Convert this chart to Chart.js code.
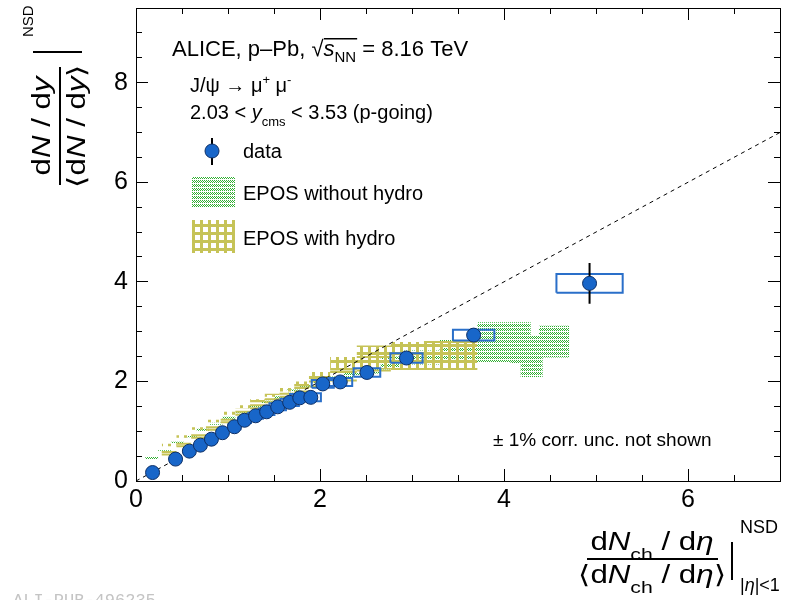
<!DOCTYPE html>
<html><head><meta charset="utf-8">
<script src="https://cdn.jsdelivr.net/npm/chart.js@4.4.0/dist/chart.umd.min.js"></script>
<style>html,body{margin:0;padding:0;background:#fff;}#wrap{width:793px;height:600px;}</style>
</head><body><div id="wrap"><canvas id="c" width="793" height="600" style="width:793px;height:600px"></canvas></div>
<script>
// ---------- data ----------
const dataX = [0.18, 0.43, 0.58, 0.70, 0.82, 0.94, 1.07, 1.18, 1.30, 1.42, 1.54, 1.67, 1.78, 1.90, 2.03, 2.22, 2.51, 2.94, 3.67, 4.93];
const dataY = [0.17, 0.44, 0.60, 0.72, 0.84, 0.97, 1.09, 1.22, 1.31, 1.39, 1.49, 1.58, 1.67, 1.68, 1.95, 1.99, 2.18, 2.47, 2.93, 3.97];
const statY = [0.01, 0.02, 0.02, 0.02, 0.03, 0.03, 0.03, 0.03, 0.04, 0.04, 0.04, 0.04, 0.05, 0.05, 0.05, 0.06, 0.06, 0.08, 0.12, 0.41];
const sysX  = [0.011, 0.026, 0.036, 0.043, 0.05, 0.057, 0.065, 0.07, 0.08, 0.085, 0.09, 0.10, 0.105, 0.11, 0.12, 0.13, 0.145, 0.175, 0.225, 0.36];
const sysY  = [0.008, 0.02, 0.028, 0.033, 0.04, 0.045, 0.05, 0.055, 0.06, 0.065, 0.07, 0.072, 0.075, 0.08, 0.077, 0.08, 0.085, 0.097, 0.107, 0.19];

const noHydroEdges = [0.10, 0.24, 0.38, 0.52, 0.66, 0.80, 0.94, 1.08, 1.22, 1.36, 1.50, 1.64, 1.78, 1.92, 2.08, 2.26, 2.46, 2.66, 2.86, 3.30, 3.71, 4.07, 4.18, 4.29, 4.38, 4.42, 4.60, 4.71];
const noHydroLow   = [0.31, 0.44, 0.58, 0.75, 0.88, 1.01, 1.13, 1.25, 1.36, 1.46, 1.56, 1.65, 1.78, 1.87, 1.95, 2.03, 2.09, 2.16, 2.24, 2.34, 2.39, 2.39, 2.35, 2.09, 2.09, 2.09, 2.48];
const noHydroHigh  = [0.35, 0.48, 0.62, 0.79, 0.92, 1.05, 1.17, 1.29, 1.40, 1.51, 1.61, 1.70, 1.84, 1.93, 2.02, 2.10, 2.17, 2.26, 2.50, 2.62, 2.83, 3.19, 3.19, 3.19, 2.92, 3.12, 3.12];

const hydroEdges = [0.28, 0.44, 0.60, 0.76, 0.92, 1.08, 1.24, 1.40, 1.56, 1.72, 1.88, 2.11, 2.40, 2.77, 3.13, 3.71];
const hydroLow   = [0.53, 0.70, 0.87, 1.03, 1.18, 1.33, 1.46, 1.58, 1.69, 1.80, 1.90, 2.02, 2.22, 2.25, 2.25];
const hydroHigh  = [0.58, 0.75, 0.92, 1.08, 1.23, 1.39, 1.52, 1.64, 1.75, 1.87, 2.00, 2.19, 2.49, 2.72, 2.79];

const diagX = [0, 7];
const diagY = [0, 7];

const xTickValues = [0, 2, 4, 6];
const xTickLabels = ['0', '2', '4', '6'];
const yTickValues = [0, 2, 4, 6, 8];
const yTickLabels = ['0', '2', '4', '6', '8'];

// ---------- helpers ----------
const FAM = '"Liberation Sans", Arial, Helvetica, sans-serif';
const canvas = document.getElementById('c');
const ctx0 = canvas.getContext('2d');

function greenPattern() {
  const c = document.createElement('canvas'); c.width = 2; c.height = 4;
  const g = c.getContext('2d');
  g.fillStyle = 'rgb(50,175,50)';
  g.fillRect(0, 0, 1, 1); g.fillRect(1, 1, 1, 1); g.fillRect(0, 2, 1, 1);
  return ctx0.createPattern(c, 'repeat');
}
function yellowPattern() {
  const c = document.createElement('canvas'); c.width = 8; c.height = 8;
  const g = c.getContext('2d');
  g.fillStyle = '#c6c357';
  g.fillRect(0, 0, 8, 3); g.fillRect(0, 0, 3, 8);
  return ctx0.createPattern(c, 'repeat');
}
const GREEN = greenPattern();
const YELLOW = yellowPattern();

// stepped boundary for the band fill
function stepData(edges, vals) {
  const d = vals.map((v, i) => ({x: edges[i], y: v}));
  d.push({x: edges[edges.length - 1], y: vals[vals.length - 1]});
  return d;
}
// horizontal edges of each bin (separate pieces)
function binEdgesData(edges, lows, highs) {
  const d = [];
  lows.forEach((v, i) => {
    d.push({x: edges[i], y: v}, {x: edges[i + 1], y: v}, {x: edges[i + 1], y: null});
    d.push({x: edges[i], y: highs[i]}, {x: edges[i + 1], y: highs[i]}, {x: edges[i + 1], y: null});
  });
  return d;
}
const markerData = dataX.map((x, i) => ({x, y: dataY[i]}));
const statData = [];
dataX.forEach((x, i) => {
  statData.push({x, y: dataY[i] - statY[i]}, {x, y: dataY[i] + statY[i]}, {x, y: null});
});
const sysData = [];
dataX.forEach((x, i) => {
  const y = dataY[i], sx = sysX[i], sy = sysY[i];
  sysData.push({x: x - sx, y: y - sy}, {x: x + sx, y: y - sy}, {x: x + sx, y: y + sy},
               {x: x - sx, y: y + sy}, {x: x - sx, y: y - sy}, {x, y: null});
});

function setFont(ctx, p) {
  ctx.font = (p.it ? 'italic ' : '') + (p.size || 20) + 'px ' + (p.fam || FAM);
}
function drawRich(ctx, parts, x, y, align, sx) {
  sx = sx || 1;
  let w = 0;
  for (const p of parts) {
    setFont(ctx, p);
    p._w = (p.gap || 0) + (p.t ? ctx.measureText(p.t).width : 0);
    w += p._w;
  }
  let cx = align === 'center' ? x - w * sx / 2 : (align === 'right' ? x - w * sx : x);
  ctx.textAlign = 'left'; ctx.textBaseline = 'alphabetic';
  for (const p of parts) {
    p._x = cx;
    if (p.t) {
      setFont(ctx, p);
      ctx.save();
      ctx.translate(cx + (p.gap || 0) * sx, y + (p.dy || 0));
      ctx.scale(sx, 1);
      ctx.fillText(p.t, 0, 0);
      ctx.restore();
    }
    cx += p._w * sx;
    p._x2 = cx;
  }
  return parts;
}

const textPlugin = {
  id: 'texts',
  afterDraw(chart) {
    const ctx = chart.ctx;
    ctx.save();
    ctx.fillStyle = '#000';
    ctx.strokeStyle = '#000';

    // title
    const tp = [
      {t: 'ALICE, p\u2013Pb, ', size: 22},
      {t: '\u221A', size: 22},
      {t: 's', size: 22, it: true},
      {t: 'NN', size: 15, dy: 6},
      {t: ' = 8.16 TeV', size: 22}
    ];
    drawRich(ctx, tp, 172, 56, 'left');
    setFont(ctx, tp[1]);
    const m = ctx.measureText('\u221A');
    const topY = 56 - m.actualBoundingBoxAscent;
    ctx.lineWidth = 1.5;
    ctx.beginPath();
    ctx.moveTo(tp[1]._x + m.actualBoundingBoxRight - 0.5, topY + 0.75);
    ctx.lineTo(tp[3]._x2 + 1, topY + 0.75);
    ctx.stroke();

    drawRich(ctx, [
      {t: 'J/\u03C8 \u2192 \u03BC', size: 20},
      {t: '+', size: 13, dy: -8},
      {t: ' \u03BC', size: 20},
      {t: '-', size: 13, dy: -8}
    ], 190, 92, 'left');
    drawRich(ctx, [
      {t: '2.03 < ', size: 20},
      {t: 'y', size: 20, it: true},
      {t: 'cms', size: 13, dy: 7},
      {t: ' < 3.53 (p-going)', size: 20}
    ], 190, 119, 'left');

    // legend
    ctx.lineWidth = 2;
    ctx.beginPath(); ctx.moveTo(212, 138); ctx.lineTo(212, 165); ctx.stroke();
    ctx.beginPath(); ctx.arc(212, 151, 7, 0, Math.PI * 2);
    ctx.fillStyle = '#1866c9'; ctx.fill();
    ctx.lineWidth = 1; ctx.strokeStyle = '#0d2f66'; ctx.stroke();
    ctx.fillStyle = GREEN; ctx.fillRect(192, 177, 43, 31);
    ctx.fillStyle = YELLOW; ctx.fillRect(192, 220, 43, 33);
    ctx.fillStyle = '#000'; ctx.strokeStyle = '#000';
    drawRich(ctx, [{t: 'data', size: 20}], 243, 158, 'left');
    drawRich(ctx, [{t: 'EPOS without hydro', size: 20}], 243, 200, 'left');
    drawRich(ctx, [{t: 'EPOS with hydro', size: 20}], 243, 245, 'left');

    drawRich(ctx, [{t: '\u00B1 1% corr. unc. not shown', size: 19}], 493, 446, 'left');

    // x axis title
    const SX = 1.25;
    drawRich(ctx, [
      {t: 'd', size: 25}, {t: 'N', size: 25, it: true}, {t: 'ch', size: 17, dy: 10},
      {t: ' / d', size: 25}, {t: '\u03B7', size: 25, it: true}
    ], 652, 550, 'center', SX);
    ctx.fillRect(587, 558, 131, 2);
    drawRich(ctx, [
      {t: '\u27E8d', size: 25}, {t: 'N', size: 25, it: true}, {t: 'ch', size: 17, dy: 10},
      {t: ' / d', size: 25}, {t: '\u03B7', size: 25, it: true}, {t: '\u27E9', size: 25}
    ], 652, 583, 'center', SX);
    ctx.fillRect(731, 542, 2, 38);
    drawRich(ctx, [{t: 'NSD', size: 18}], 740, 533, 'left');
    drawRich(ctx, [{t: '|', size: 18}, {t: '\u03B7', size: 18, it: true}, {t: '|<1', size: 18}], 740, 591, 'left');

    // y axis title (rotated)
    ctx.save();
    ctx.translate(60, 126);
    ctx.rotate(-Math.PI / 2);
    drawRich(ctx, [
      {t: 'd', size: 25}, {t: 'N', size: 25, it: true}, {t: ' / d', size: 25}, {t: 'y', size: 25, it: true}
    ], 0, -10, 'center', SX);
    drawRich(ctx, [
      {t: '\u27E8d', size: 25}, {t: 'N', size: 25, it: true}, {t: ' / d', size: 25}, {t: 'y', size: 25, it: true}, {t: '\u27E9', size: 25}
    ], 0, 25, 'center', SX);
    ctx.fillRect(-59, -1, 118, 2);
    ctx.fillRect(73, -27, 2, 49);
    drawRich(ctx, [{t: 'NSD', size: 15}], 89, -27, 'left');
    ctx.restore();

    // watermark
    ctx.fillStyle = '#c4c4c4';
    drawRich(ctx, [{t: 'ALI-PUB-496235', size: 17, fam: '"Liberation Mono", "DejaVu Sans Mono", monospace'}], 13, 605, 'left');
    ctx.restore();
  }
};

function axisBase(axis, position, min, max, step, tl, weight, size) {
  return {
    type: 'linear', axis, position, min, max, weight,
    ticks: {display: false, stepSize: step, includeBounds: false},
    grid: {display: true, drawOnChartArea: false, drawTicks: true, tickLength: tl, color: '#000', tickColor: '#000', tickWidth: 1},
    border: {display: true, color: '#000', width: 1},
    afterFit: (s) => {
      if (axis === 'x') s.height = size; else s.width = size;
      s.paddingTop = 0; s.paddingBottom = 0; s.paddingLeft = 0; s.paddingRight = 0;
    }
  };
}

const xMain = axisBase('x', 'bottom', 0, 7, 2, -12, 1, 119);
xMain.ticks = {display: true, stepSize: 2, includeBounds: false, autoSkip: false, maxRotation: 0, padding: 16,
  color: '#000', font: {family: FAM, size: 25},
  callback: (v) => { const i = xTickValues.indexOf(v); return i >= 0 ? xTickLabels[i] : ''; }};
const yMain = axisBase('y', 'left', 0, 9.5, 2, -12, 1, 136);
yMain.ticks = {display: true, stepSize: 2, includeBounds: false, autoSkip: false, padding: 20,
  color: '#000', font: {family: FAM, size: 25},
  callback: (v) => { const i = yTickValues.indexOf(v); return i >= 0 ? yTickLabels[i] : ''; }};

const CLEAR = 'rgba(0,0,0,0)';
new Chart(canvas, {
  type: 'line',
  data: {
    datasets: [
      {label: 'data', data: markerData, showLine: false, pointRadius: 7, pointHoverRadius: 7,
       pointBackgroundColor: '#1866c9', pointBorderColor: '#0d2f66', pointBorderWidth: 1, order: 1},
      {label: 'stat', data: statData, borderColor: '#000', borderWidth: 2, pointRadius: 0, order: 2},
      {label: 'sys', data: sysData, borderColor: '#2a6fc9', borderWidth: 2, pointRadius: 0, borderJoinStyle: 'miter', order: 3},
      {label: 'diag', data: diagX.map((x, i) => ({x, y: diagY[i]})), borderColor: '#000', borderWidth: 1, borderDash: [4, 4], pointRadius: 0, order: 4},
      {label: 'hydroLow', data: stepData(hydroEdges, hydroLow), stepped: 'after', borderColor: CLEAR, borderWidth: 1, pointRadius: 0, fill: false, order: 5},
      {label: 'hydroHigh', data: stepData(hydroEdges, hydroHigh), stepped: 'after', borderColor: CLEAR, borderWidth: 1, pointRadius: 0, fill: '-1', backgroundColor: YELLOW, order: 5},
      {label: 'hydroEdges', data: binEdgesData(hydroEdges, hydroLow, hydroHigh), borderColor: '#c6c357', borderWidth: 2, pointRadius: 0, fill: false, order: 5},
      {label: 'noHydroLow', data: stepData(noHydroEdges, noHydroLow), stepped: 'after', borderColor: CLEAR, borderWidth: 1, pointRadius: 0, fill: false, order: 6},
      {label: 'noHydroHigh', data: stepData(noHydroEdges, noHydroHigh), stepped: 'after', borderColor: CLEAR, borderWidth: 1, pointRadius: 0, fill: '-1', backgroundColor: GREEN, order: 6}
    ]
  },
  options: {
    responsive: false, devicePixelRatio: 1, animation: false, events: [],
    layout: {padding: 0},
    plugins: {legend: {display: false}, tooltip: {enabled: false}, title: {display: false}},
    scales: {
      x: xMain,
      xMinor: axisBase('x', 'bottom', 0, 7, 0.5, -6, 0, 0),
      xTop: axisBase('x', 'top', 0, 7, 2, -12, 1, 5),
      xTopMinor: axisBase('x', 'top', 0, 7, 0.5, -6, 0, 0),
      y: yMain,
      yMinor: axisBase('y', 'left', 0, 9.5, 0.5, -6, 0, 0),
      yRight: axisBase('y', 'right', 0, 9.5, 2, -12, 1, 13),
      yRightMinor: axisBase('y', 'right', 0, 9.5, 0.5, -6, 0, 0)
    }
  },
  plugins: [textPlugin]
});
</script>
</body></html>
